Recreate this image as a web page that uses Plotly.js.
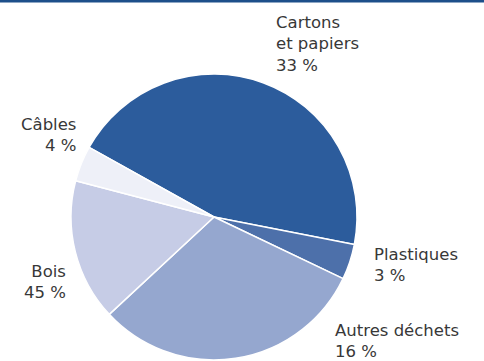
<!DOCTYPE html>
<html>
<head>
<meta charset="utf-8">
<script src="https://cdn.plot.ly/plotly-3.0.1.min.js"></script>
<style>html,body{margin:0;padding:0;background:#fff;}#chart{width:484px;height:361px;}</style>
</head>
<body>
<div id="chart"></div>
<script>
// Categories in clockwise order (starting with Cartons)
const categories = ["Cartons et papiers", "Plastiques", "Autres déchets", "Bois", "Câbles"];
// Slice sizes as drawn in the picture
const sliceValues = [45, 4, 31, 16, 4];
// Printed labels as shown on the picture
const labelLines = [["Cartons", "et papiers"], ["Plastiques"], ["Autres déchets"], ["Bois"], ["Câbles"]];
const labelPercents = ["33 %", "3 %", "16 %", "45 %", "4 %"];
const sliceColors = ["#2c5c9c", "#4d70aa", "#95a7cf", "#c6cce6", "#eef0f8"];

const W = 484, H = 361;
// label placement (pixels): x, y(center), anchor
const labelPos = [
  {x: 274, y: 44, xa: "left"},
  {x: 372, y: 265, xa: "left"},
  {x: 333, y: 341, xa: "left"},
  {x: 68, y: 282, xa: "right"},
  {x: 78, y: 135, xa: "right"}
];

const annotations = categories.map((c, i) => ({
  xref: "paper", yref: "paper",
  x: labelPos[i].x / W, y: 1 - labelPos[i].y / H,
  xanchor: labelPos[i].xa, yanchor: "middle",
  align: labelPos[i].xa,
  showarrow: false,
  text: labelLines[i].concat([labelPercents[i]]).join("<br>"),
  font: {family: "DejaVu Sans, sans-serif", size: 16.5, color: "#383838"}
}));

const trace = {
  type: "pie",
  labels: categories,
  values: sliceValues,
  sort: false,
  direction: "clockwise",
  rotation: -60.9,
  textinfo: "none",
  hoverinfo: "skip",
  marker: {colors: sliceColors, line: {color: "#ffffff", width: 1.5}},
  domain: {x: [71 / W, 357 / W], y: [0, 288 / H]},
  showlegend: false
};

const layout = {
  width: W, height: H,
  margin: {l: 0, r: 0, t: 0, b: 0},
  paper_bgcolor: "#ffffff",
  plot_bgcolor: "#ffffff",
  showlegend: false,
  annotations: annotations,
  shapes: [{type: "line", xref: "paper", yref: "paper", x0: 0, x1: 1, y0: 1 - 1 / H, y1: 1 - 1 / H,
            line: {color: "#1d4f8a", width: 3}}]
};

Plotly.newPlot("chart", [trace], layout, {staticPlot: true, displayModeBar: false});
</script>
</body>
</html>
